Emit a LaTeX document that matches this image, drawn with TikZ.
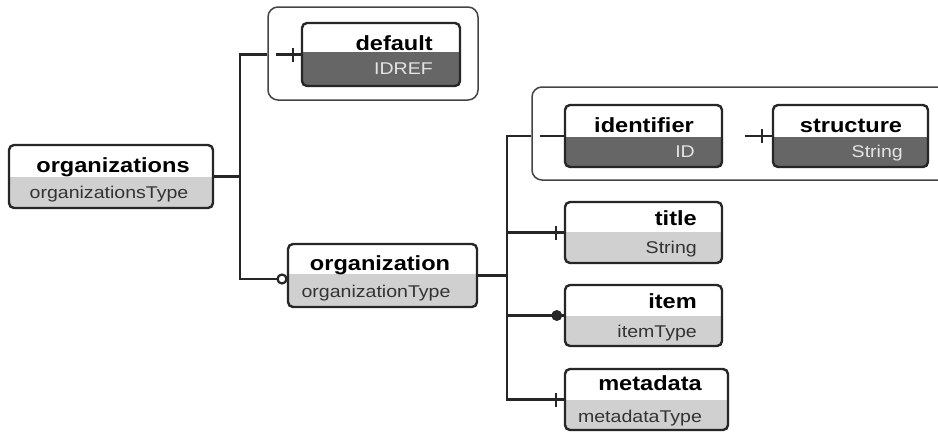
\documentclass[tikz,border=0pt]{standalone}
\usepackage{fontspec}
\setmainfont{Liberation Sans}
\usetikzlibrary{fit}
\definecolor{lowlight}{HTML}{D0D0D0}
\definecolor{lowdark}{HTML}{666666}
\definecolor{edge}{HTML}{262626}
\definecolor{grp}{HTML}{444444}
\definecolor{tylight}{HTML}{333333}
\definecolor{tydark}{HTML}{E4E4E4}
\tikzset{
  conn/.style={draw=edge, line width=2.2pt},
  boxline/.style={draw=edge, line width=2.4pt},
  grpbox/.style={draw=grp, line width=1.5pt, rounded corners=10pt, fill=white, inner sep=0pt},
  anchorbox/.style={inner sep=0pt},
  nmtext/.style={inner sep=0pt, text=black},
  tylighttext/.style={inner sep=0pt, text=tylight},
  tydarktext/.style={inner sep=0pt, text=tydark},
}
\newcommand\nmtxt[1]{\scalebox{1.15}[1]{\fontsize{20.5}{22}\selectfont\bfseries #1}}
\newcommand\tytxt[1]{\scalebox{1.15}[1]{\fontsize{17}{19}\selectfont #1}}
\newcommand\elbox[7]{%
  \node[anchorbox, fit={(#2,#3) (#4,#5)}] (#1) {};
  \fill[white, rounded corners=5pt] (#2,#3) rectangle (#4,#5);
  \begin{scope}
    \clip[rounded corners=5pt] (#2,#3) rectangle (#4,#5);
    \fill[#7] (#2,#6) rectangle (#4,#5);
  \end{scope}
  \draw[boxline, rounded corners=5pt] (#2,#3) rectangle (#4,#5);
}
\newcommand\tickmark[2]{%
  \draw[conn] ([xshift=-#2pt,yshift=-7pt]#1.west) -- ([xshift=-#2pt,yshift=7pt]#1.west);
}
\begin{document}
\begin{tikzpicture}[x=1pt, y=-1pt]
\fill[white] (0,0) rectangle (938,432);
\useasboundingbox (0,0) rectangle (938,432);

% groups
\node[grpbox, fit={(268,7) (478,100)}] (g1) {};
\node[grpbox, fit={(532,87) (960,180)}] (g2) {};

% element boxes
\elbox{orgs}{9}{145}{213}{208}{177}{lowlight}
\elbox{default}{302}{23}{460}{86}{52}{lowdark}
\elbox{orgn}{288}{244}{477}{307}{274}{lowlight}
\elbox{ident}{565}{105}{722}{167}{137}{lowdark}
\elbox{struct}{773}{105}{928}{167}{137}{lowdark}
\elbox{title}{565}{202}{722}{263}{232}{lowlight}
\elbox{item}{565}{285}{722}{346}{316}{lowlight}
\elbox{meta}{565}{369}{728}{430}{400}{lowlight}

% texts
\node[nmtext, anchor=base] (orgs-n) at (113,172) {\nmtxt{organizations}};
\node[tylighttext, anchor=base] (orgs-t) at (109,198) {\tytxt{organizationsType}};
\node[nmtext, anchor=base east] (default-n) at (433,50) {\nmtxt{default}};
\node[tydarktext, anchor=base east] (default-t) at (433,74) {\tytxt{IDREF}};
\node[nmtext, anchor=base] (orgn-n) at (380,270) {\nmtxt{organization}};
\node[tylighttext, anchor=base] (orgn-t) at (376,297) {\tytxt{organizationType}};
\node[nmtext, anchor=base] (ident-n) at (644,132) {\nmtxt{identifier}};
\node[tydarktext, anchor=base east] (ident-t) at (695,157) {\tytxt{ID}};
\node[nmtext, anchor=base] (struct-n) at (851,132) {\nmtxt{structure}};
\node[tydarktext, anchor=base east] (struct-t) at (903,157) {\tytxt{String}};
\node[nmtext, anchor=base east] (title-n) at (697,225) {\nmtxt{title}};
\node[tylighttext, anchor=base east] (title-t) at (697,253) {\tytxt{String}};
\node[nmtext, anchor=base east] (item-n) at (697,308) {\nmtxt{item}};
\node[tylighttext, anchor=base east] (item-t) at (697,337) {\tytxt{itemType}};
\node[nmtext, anchor=base] (meta-n) at (650,390) {\nmtxt{metadata}};
\node[tylighttext, anchor=base] (meta-t) at (640,422) {\tytxt{metadataType}};

% connectors
\coordinate (j1) at (240,0);
\coordinate (j2) at (507,0);
\coordinate (oc) at (282,279);
\draw[conn] (orgs.east) -- (orgs.east -| j1);
\draw[conn] (g1.west |- default.west) -| (j1 |- oc) -- (oc);
\draw[conn] ([xshift=-26pt]default.west) -- (default.west);
\tickmark{default}{9}
\draw[conn, fill=white] (oc) circle (4.5);

\draw[conn] (orgn.east) -- (orgn.east -| j2);
\draw[conn] (g2.west |- ident.west) -| (j2 |- meta.west) -- (meta.west);
\draw[conn] (j2 |- title.west) -- (title.west);
\draw[conn] (j2 |- item.west) -- (item.west);
\draw[conn] ([xshift=-25pt]ident.west) -- (ident.west);
\draw[conn] ([xshift=-28pt]struct.west) -- (struct.west);
\tickmark{struct}{11}
\tickmark{title}{9}
\tickmark{meta}{9}
\fill[edge] ([xshift=-8pt]item.west) circle (5.5);
\end{tikzpicture}
\end{document}
